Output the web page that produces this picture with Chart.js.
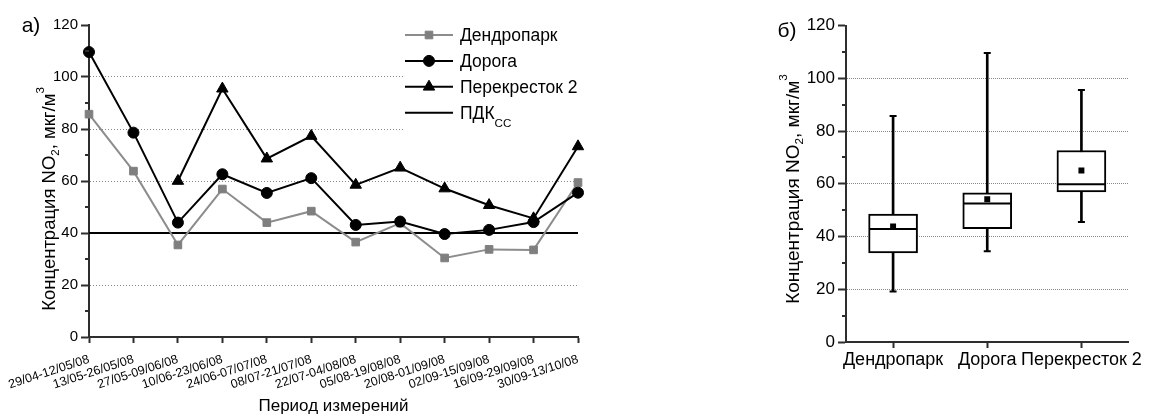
<!DOCTYPE html>
<html lang="ru">
<head>
<meta charset="utf-8">
<title>Концентрация NO2</title>
<script src="https://cdn.jsdelivr.net/npm/chart.js@4.4.0/dist/chart.umd.min.js"></script>
<style>
  html, body { margin: 0; padding: 0; background: #fff; }
  body { width: 1154px; height: 418px; position: relative; overflow: hidden; }
  #panelA { position: absolute; left: 0; top: 0; width: 600px; height: 418px; }
  #panelB { position: absolute; left: 760px; top: 0; width: 394px; height: 418px; }
</style>
</head>
<body>
<div id="panelA"><canvas id="lineChart" width="600" height="418"></canvas></div>
<div id="panelB"><canvas id="boxChart" width="394" height="418"></canvas></div>
<script>
// ---- data: two-week sampling periods, NO2 concentration, µg/m³ ----
const periods = [
  '29/04-12/05/08', '13/05-26/05/08', '27/05-09/06/08', '10/06-23/06/08',
  '24/06-07/07/08', '08/07-21/07/08', '22/07-04/08/08', '05/08-19/08/08',
  '20/08-01/09/08', '02/09-15/09/08', '16/09-29/09/08', '30/09-13/10/08'
];
const dendropark   = [85.7, 63.8, 35.4, 56.9, 44.0, 48.4, 36.5, 43.8, 30.4, 33.7, 33.5, 59.4];
const doroga       = [109.6, 78.6, 44.0, 62.6, 55.4, 61.1, 43.1, 44.4, 39.6, 41.2, 44.2, 55.5];
const perekrestok2 = [null, null, 60.0, 95.5, 68.6, 77.3, 58.5, 65.1, 57.1, 50.7, 45.6, 73.3];
const pdkCC = 40;

// ---- box-plot statistics per site ----
const boxSites  = ['Дендропарк', 'Дорога', 'Перекресток 2'];
const boxMin    = [19.1, 34.4, 45.5];
const boxQ1     = [33.8, 43.0, 56.9];
const boxMedian = [42.8, 52.5, 59.8];
const boxQ3     = [48.5, 56.6, 72.6];
const boxMax    = [85.7, 109.6, 95.5];
const boxMean   = [43.8, 54.1, 65.0];

// ---- axis ranges ----
const yMin = 0, yMax = 120, yStep = 20;

const FONT = '"Liberation Sans", Arial, Helvetica, sans-serif';
Chart.defaults.font.family = FONT;
Chart.defaults.color = '#000';
const AXIS = '#2e2e2e';

// text with sub/superscript parts, centred on (cx, cy), optionally rotated
function drawRich(ctx, parts, cx, cy, angle, size) {
  ctx.save();
  ctx.translate(cx, cy);
  ctx.rotate(angle);
  ctx.fillStyle = '#000';
  ctx.textAlign = 'left';
  ctx.textBaseline = 'alphabetic';
  let total = 0;
  const widths = parts.map(p => {
    ctx.font = (size * (p.scale || 1)).toFixed(1) + 'px ' + FONT;
    const w = ctx.measureText(p.text).width;
    total += w;
    return w;
  });
  let x = -total / 2;
  const base = size * 0.358;
  parts.forEach((p, i) => {
    ctx.font = (size * (p.scale || 1)).toFixed(1) + 'px ' + FONT;
    ctx.fillText(p.text, x, base + (p.dy || 0) * size);
    x += widths[i];
  });
  ctx.restore();
}

const yTitleParts = [
  { text: 'Концентрация NO' },
  { text: '2', scale: 0.62, dy: 0.24 },
  { text: ', мкг/м' },
  { text: '3', scale: 0.62, dy: -0.6 }
];

// short unlabeled ticks halfway between the labelled ones
const minorTicks = {
  id: 'minorTicks',
  afterDraw(chart, args, o) {
    const s = chart.scales.y;
    const ctx = chart.ctx;
    ctx.save();
    ctx.strokeStyle = AXIS;
    ctx.lineWidth = 2;
    for (let v = s.min + o.step / 2; v < s.max; v += o.step) {
      const y = Math.round(s.getPixelForValue(v));
      ctx.beginPath();
      ctx.moveTo(s.right - o.length, y);
      ctx.lineTo(s.right, y);
      ctx.stroke();
    }
    ctx.restore();
  }
};

// panel letter and rotated y-axis title with sub/superscripts
const panelText = {
  id: 'panelText',
  afterDraw(chart, args, o) {
    const ctx = chart.ctx;
    ctx.save();
    ctx.fillStyle = '#000';
    ctx.font = o.letterSize + 'px ' + FONT;
    ctx.textAlign = 'center';
    ctx.textBaseline = 'middle';
    ctx.fillText(o.letter, o.letterX, o.letterY);
    ctx.restore();
    drawRich(ctx, yTitleParts, o.titleX, o.titleY, -Math.PI / 2, o.titleSize);
  }
};

// legend drawn inside the plot, on a white backing
const insideLegend = {
  id: 'insideLegend',
  beforeDatasetsDraw(chart, args, o) {
    const ctx = chart.ctx;
    const a = chart.chartArea;
    ctx.save();
    ctx.fillStyle = '#fff';
    ctx.fillRect(o.x - 2, o.y - 16, a.right - o.x + 2, o.rowGap * 3 + 35);
    ctx.restore();
  },
  afterDatasetsDraw(chart, args, o) {
    const ctx = chart.ctx;
    chart.data.datasets.forEach((ds, i) => {
      const y = o.y + i * o.rowGap;
      ctx.save();
      ctx.strokeStyle = ds.borderColor;
      ctx.lineWidth = ds.borderWidth;
      ctx.beginPath();
      ctx.moveTo(o.x, y);
      ctx.lineTo(o.x + o.sampleWidth, y);
      ctx.stroke();
      if (ds.pointRadius > 0) {
        ctx.fillStyle = ds.pointBackgroundColor;
        ctx.strokeStyle = ds.pointBorderColor;
        ctx.lineWidth = 1;
        Chart.helpers.drawPoint(ctx, {
          pointStyle: ds.pointStyle, radius: ds.pointRadius, rotation: 0, borderWidth: 1
        }, o.x + o.sampleWidth / 2, y);
      }
      ctx.restore();
      const parts = [{ text: ds.label }];
      if (ds.labelSub) parts.push({ text: ds.labelSub, scale: 0.66, dy: 0.45 });
      ctx.save();
      let w = 0;
      parts.forEach(p => {
        ctx.font = (o.fontSize * (p.scale || 1)).toFixed(1) + 'px ' + FONT;
        w += ctx.measureText(p.text).width;
      });
      ctx.restore();
      drawRich(ctx, parts, o.textX + w / 2, y, 0, o.fontSize);
    });
  }
};

// ---------------- panel а): time series ----------------
new Chart(document.getElementById('lineChart'), {
  type: 'line',
  data: {
    labels: periods,
    datasets: [
      {
        label: 'Дендропарк', data: dendropark,
        borderColor: '#8c8c8c', borderWidth: 2,
        pointStyle: 'rect', pointRadius: 5.4,
        pointBackgroundColor: '#7f7f7f', pointBorderColor: '#7f7f7f', pointBorderWidth: 1,
        clip: false, order: 3
      },
      {
        label: 'Дорога', data: doroga,
        borderColor: '#000', borderWidth: 2,
        pointStyle: 'circle', pointRadius: 5.5,
        pointBackgroundColor: '#000', pointBorderColor: '#000', pointBorderWidth: 1,
        clip: false, order: 2
      },
      {
        label: 'Перекресток 2', data: perekrestok2,
        borderColor: '#000', borderWidth: 2,
        pointStyle: 'triangle', pointRadius: 6.6,
        pointBackgroundColor: '#000', pointBorderColor: '#000', pointBorderWidth: 1,
        clip: false, order: 1
      },
      {
        label: 'ПДК', labelSub: 'СС', data: periods.map(() => pdkCC),
        borderColor: '#000', borderWidth: 2, pointRadius: 0,
        clip: false, order: 4
      }
    ]
  },
  options: {
    responsive: false,
    animation: false,
    events: [],
    layout: { padding: { top: 25, right: 22, left: 0, bottom: 0 } },
    plugins: {
      legend: { display: false },
      tooltip: { enabled: false },
      minorTicks: { step: yStep, length: 4 },
      panelText: { letter: 'а)', letterX: 31, letterY: 26, letterSize: 21, titleX: 48, titleY: 199, titleSize: 18.5 },
      insideLegend: { x: 405, y: 35, rowGap: 25.9, sampleWidth: 48, textX: 460, fontSize: 17.5 }
    },
    scales: {
      x: {
        type: 'category',
        offset: false,
        grid: { display: true, drawOnChartArea: false, drawTicks: true, tickLength: 6, tickWidth: 2, tickColor: AXIS },
        border: { display: true, color: AXIS, width: 2 },
        ticks: { autoSkip: false, minRotation: 18, maxRotation: 18, padding: 9, font: { size: 12.5 } },
        title: { display: true, text: 'Период измерений', font: { size: 17 }, padding: { top: 0, bottom: 1 } },
        afterFit(s) { s.height = 81; }
      },
      y: {
        min: yMin, max: yMax,
        ticks: { stepSize: yStep, padding: 3, font: { size: 15 } },
        grid: {
          color: c => (c.tick && (c.tick.value === yMin || c.tick.value === yMax)) ? 'rgba(0,0,0,0)' : '#8a8a8a',
          lineWidth: 1, drawTicks: true, tickLength: 8, tickWidth: 2, tickColor: AXIS
        },
        border: { display: true, color: AXIS, width: 2, dash: [1, 2] },
        afterFit(s) { s.width = 89; }
      }
    }
  },
  plugins: [minorTicks, panelText, insideLegend]
});

// ---------------- panel б): box plots ----------------
new Chart(document.getElementById('boxChart'), {
  type: 'bar',
  data: {
    labels: boxSites,
    datasets: [
      { // whiskers: min .. max
        type: 'bar', data: boxSites.map((_, i) => [boxMin[i], boxMax[i]]),
        backgroundColor: '#000', borderWidth: 0, barThickness: 2, grouped: false, order: 6
      },
      { // interquartile box
        type: 'bar', data: boxSites.map((_, i) => [boxQ1[i], boxQ3[i]]),
        backgroundColor: '#fff', borderColor: '#000', borderWidth: 2, borderSkipped: false,
        barThickness: 49, grouped: false, order: 5
      },
      { // median
        type: 'line', data: boxMedian, showLine: false,
        pointStyle: 'line', pointRadius: 23.5, pointBorderWidth: 2, pointBorderColor: '#000', order: 4
      },
      { // whisker caps
        type: 'line', data: boxMin, showLine: false,
        pointStyle: 'line', pointRadius: 3.5, pointBorderWidth: 2, pointBorderColor: '#000', order: 3
      },
      {
        type: 'line', data: boxMax, showLine: false,
        pointStyle: 'line', pointRadius: 3.5, pointBorderWidth: 2, pointBorderColor: '#000', order: 3
      },
      { // mean
        type: 'line', data: boxMean, showLine: false,
        pointStyle: 'rect', pointRadius: 4.2, pointBackgroundColor: '#000', pointBorderColor: '#000',
        pointBorderWidth: 0, order: 2
      }
    ]
  },
  options: {
    responsive: false,
    animation: false,
    events: [],
    layout: { padding: { top: 23, right: 14, left: 0, bottom: 0 } },
    plugins: {
      legend: { display: false },
      tooltip: { enabled: false },
      minorTicks: { step: yStep, length: 4 },
      panelText: { letter: 'б)', letterX: 27, letterY: 31, letterSize: 21, titleX: 32, titleY: 189, titleSize: 19 }
    },
    scales: {
      x: {
        type: 'category',
        offset: true,
        grid: { display: true, drawOnChartArea: false, drawTicks: true, tickLength: 6, tickWidth: 2, tickColor: AXIS, offset: false },
        border: { display: true, color: AXIS, width: 2 },
        ticks: { autoSkip: false, minRotation: 0, maxRotation: 0, padding: 1, font: { size: 18 } },
        afterFit(s) { s.height = 76; s.paddingLeft = 0; s.paddingRight = 0; }
      },
      y: {
        min: yMin, max: yMax,
        ticks: { stepSize: yStep, padding: 3, font: { size: 17 } },
        grid: {
          color: c => (c.tick && (c.tick.value === yMin || c.tick.value === yMax)) ? 'rgba(0,0,0,0)' : '#8a8a8a',
          lineWidth: 1, drawTicks: true, tickLength: 8, tickWidth: 2, tickColor: AXIS
        },
        border: { display: true, color: AXIS, width: 2, dash: [1, 1] },
        afterFit(s) { s.width = 86; }
      }
    }
  },
  plugins: [minorTicks, panelText]
});
</script>
</body>
</html>
